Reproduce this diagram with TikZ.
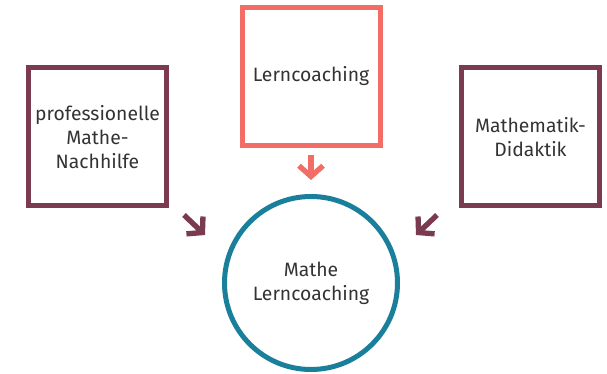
\documentclass[tikz,border=0pt]{standalone}
\usepackage{fontspec}
\setmainfont{Fira Sans}
\usetikzlibrary{positioning}
\usetikzlibrary{arrows.meta}
\definecolor{wine}{HTML}{7A3A50}
\definecolor{coral}{HTML}{F26D65}
\definecolor{teal}{HTML}{1A7F9A}
\definecolor{ink}{HTML}{333333}

\tikzset{
  field/.style={draw, line width=3.75pt, minimum size=103.5pt, align=center, text=ink, font=\fontsize{14.5}{18}\selectfont},
  goalcircle/.style={draw=teal, circle, line width=3.75pt, minimum size=129.75pt, align=center, text=ink, font=\fontsize{14.5}{18}\selectfont},
  inflow/.style={line width=4pt, -{Straight Barb[length=8pt,width=18pt]}}
}

\begin{document}
\begin{tikzpicture}[x=0.75pt,y=-0.75pt]
\useasboundingbox (0,0) rectangle (607,374);

\node[field, draw=wine] (nachhilfe) at (97.5,137) {professionelle\\Mathe-\\Nachhilfe};
\node[field, draw=coral] (coaching) at (311,76.5) {Lerncoaching};
\node[field, draw=wine] (didaktik) at (530.5,137) {Mathematik-\\Didaktik};
\node[goalcircle] (ziel) at (311,283) {Mathe\\Lerncoaching};

\coordinate (l1) at (184,215);
\coordinate (l2) at (205,235);
\coordinate (r1) at (437,215);
\coordinate (r2) at (416,235);

\draw[inflow, coral, shorten <=5.6pt, shorten >=10.5pt] (coaching.south) -- (ziel.north);
\draw[inflow, wine] (l1) -- (l2);
\draw[inflow, wine] (r1) -- (r2);
\end{tikzpicture}
\end{document}
